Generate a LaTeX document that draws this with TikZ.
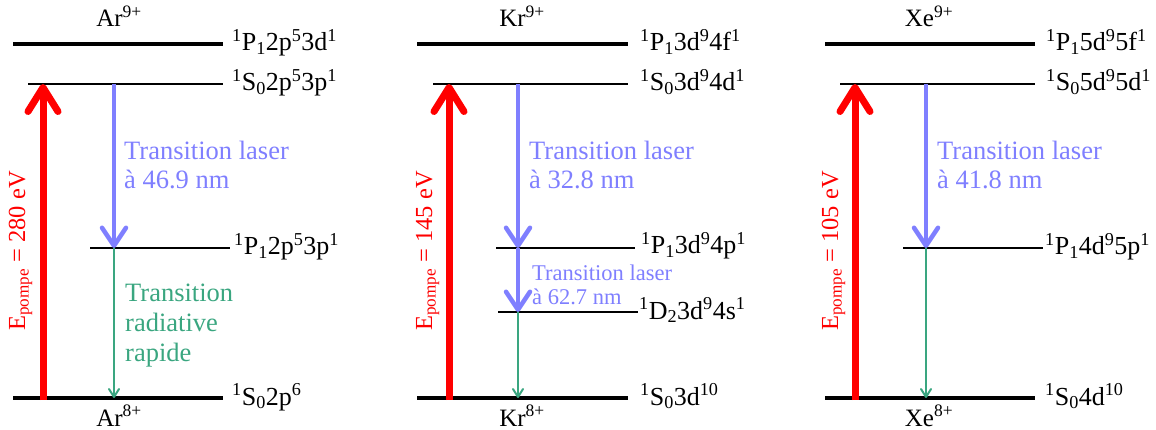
\documentclass[tikz,border=0pt]{standalone}
\usepackage{fontspec}
\setmainfont{Liberation Serif}
\usetikzlibrary{arrows.meta}
\definecolor{pumpred}{RGB}{255,0,0}
\definecolor{laserblue}{RGB}{127,127,255}
\definecolor{radgreen}{RGB}{58,166,128}
\newcommand{\sups}[1]{\textsuperscript{#1}}
\newcommand{\subs}[1]{\textsubscript{#1}}
\begin{document}
\begin{tikzpicture}[x=1pt,y=-1pt,
  thicklevel/.style={line width=4.5pt},
  thinlevel/.style={line width=1.8pt},
  lvllabel/.style={anchor=base west, inner sep=0pt, font=\fontsize{26}{30}\selectfont},
  ionlabel/.style={anchor=base, inner sep=0pt, font=\fontsize{25}{28}\selectfont},
  pumplabel/.style={rotate=90, anchor=base, inner sep=0pt, text=pumpred, font=\fontsize{24.5}{28}\selectfont},
  bluelabel/.style={anchor=north west, inner sep=0pt, align=left, text=laserblue, font=\fontsize{26.5}{29}\selectfont},
  smallbluelabel/.style={anchor=north west, inner sep=0pt, align=left, text=laserblue, font=\fontsize{22.5}{24}\selectfont},
  greenlabel/.style={anchor=north west, inner sep=0pt, align=left, text=radgreen, font=\fontsize{26.5}{30}\selectfont},
  pump/.style={draw=pumpred, line width=7pt, -{Straight Barb[length=24pt,width=30pt,round]}},
  laser/.style={draw=laserblue, line width=4.5pt, -{Straight Barb[length=18pt,width=24pt,round]}},
  radiative/.style={draw=radgreen, line width=2pt, -{Straight Barb[length=8pt,width=10pt,round]}}
]
\useasboundingbox (0,0) rectangle (1156,430);

% ================= Ar =================
\draw[thicklevel] (13,44) -- (223,44);
\draw[thinlevel] (28,84) -- (223,84);
\draw[thinlevel] (90,248) -- (230,248);
\draw[thicklevel] (13,398) -- (223,398);
\node[ionlabel] (ArTop) at (119,27) {Ar\sups{9+}};
\node[ionlabel] (ArBot) at (119,426) {Ar\sups{8+}};
\node[lvllabel] (ArA) at (232,51) {\sups{1}P\subs{1}2p\sups{5}3d\sups{1}};
\node[lvllabel] (ArB) at (232,91) {\sups{1}S\subs{0}2p\sups{5}3p\sups{1}};
\node[lvllabel] (ArC) at (234,255) {\sups{1}P\subs{1}2p\sups{5}3p\sups{1}};
\node[lvllabel] (ArD) at (232,405) {\sups{1}S\subs{0}2p\sups{6}};
\coordinate (ArP0) at (43,400);
\coordinate (ArP1) at (43,84);
\coordinate (ArL0) at (114,84);
\coordinate (ArL1) at (114,248);
\coordinate (ArG1) at (114,398);
\draw[pump] (ArP0) -- (ArP1);
\draw[laser] (ArL0) -- (ArL1);
\draw[radiative] (ArL1) -- (ArG1);
\node[pumplabel] (ArE) at (25,251) {E\subs{pompe} = 280 eV};
\node[bluelabel] (ArT) at (124,141) {Transition laser\\à 46.9 nm};
\node[greenlabel] (ArR) at (125,284) {Transition\\radiative\\rapide};

% ================= Kr =================
\draw[thicklevel] (417,44) -- (628,44);
\draw[thinlevel] (433,84) -- (628,84);
\draw[thinlevel] (496,248) -- (635,248);
\draw[thinlevel] (498,312) -- (638,312);
\draw[thicklevel] (417,398) -- (628,398);
\node[ionlabel] (KrTop) at (522,27) {Kr\sups{9+}};
\node[ionlabel] (KrBot) at (522,426) {Kr\sups{8+}};
\node[lvllabel] (KrA) at (640,51) {\sups{1}P\subs{1}3d\sups{9}4f\sups{1}};
\node[lvllabel] (KrB) at (640,91) {\sups{1}S\subs{0}3d\sups{9}4d\sups{1}};
\node[lvllabel] (KrC) at (641,254) {\sups{1}P\subs{1}3d\sups{9}4p\sups{1}};
\node[lvllabel] (KrD) at (639,319) {\sups{1}D\subs{2}3d\sups{9}4s\sups{1}};
\node[lvllabel] (KrE0) at (640,405) {\sups{1}S\subs{0}3d\sups{10}};
\coordinate (KrP0) at (449,400);
\coordinate (KrP1) at (449,84);
\coordinate (KrL0) at (518,84);
\coordinate (KrL1) at (518,248);
\coordinate (KrL2) at (518,312);
\coordinate (KrG1) at (518,398);
\draw[pump] (KrP0) -- (KrP1);
\draw[laser] (KrL0) -- (KrL1);
\draw[laser] (KrL1) -- (KrL2);
\draw[radiative] (KrL2) -- (KrG1);
\node[pumplabel] (KrE) at (432,251) {E\subs{pompe} = 145 eV};
\node[bluelabel] (KrT) at (529,141) {Transition laser\\à 32.8 nm};
\node[smallbluelabel] (KrT2) at (532,265) {Transition laser\\à 62.7 nm};

% ================= Xe =================
\draw[thicklevel] (825,44) -- (1035,44);
\draw[thinlevel] (840,84) -- (1035,84);
\draw[thinlevel] (903,248) -- (1043,248);
\draw[thicklevel] (825,398) -- (1035,398);
\node[ionlabel] (XeTop) at (929,27) {Xe\sups{9+}};
\node[ionlabel] (XeBot) at (929,426) {Xe\sups{8+}};
\node[lvllabel] (XeA) at (1046,51) {\sups{1}P\subs{1}5d\sups{9}5f\sups{1}};
\node[lvllabel] (XeB) at (1046,91) {\sups{1}S\subs{0}5d\sups{9}5d\sups{1}};
\node[lvllabel] (XeC) at (1045,255) {\sups{1}P\subs{1}4d\sups{9}5p\sups{1}};
\node[lvllabel] (XeD) at (1045,405) {\sups{1}S\subs{0}4d\sups{10}};
\coordinate (XeP0) at (855,400);
\coordinate (XeP1) at (855,84);
\coordinate (XeL0) at (926,84);
\coordinate (XeL1) at (926,248);
\coordinate (XeG1) at (926,398);
\draw[pump] (XeP0) -- (XeP1);
\draw[laser] (XeL0) -- (XeL1);
\draw[radiative] (XeL1) -- (XeG1);
\node[pumplabel] (XeE) at (838,251) {E\subs{pompe} = 105 eV};
\node[bluelabel] (XeT) at (937,141) {Transition laser\\à 41.8 nm};
\end{tikzpicture}
\end{document}
